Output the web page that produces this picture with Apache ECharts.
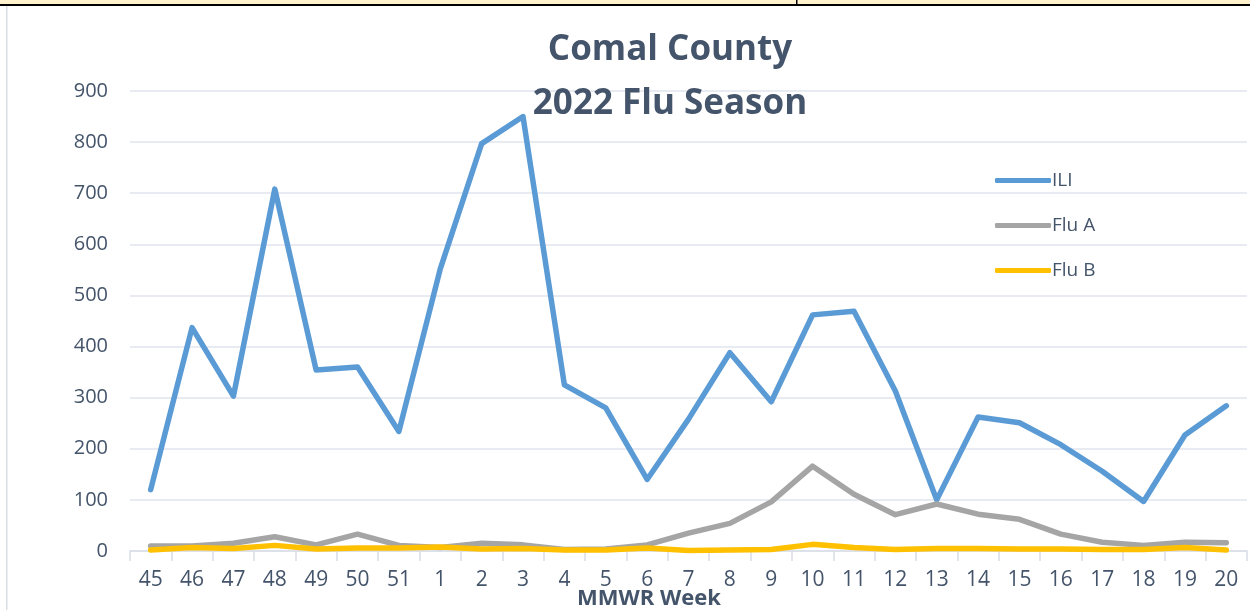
<!DOCTYPE html>
<html>
<head>
<meta charset="utf-8">
<script src="https://cdn.jsdelivr.net/npm/echarts@6/dist/echarts.min.js"></script>
<style>
html, body { margin: 0; padding: 0; background: #fff; }
#chart { width: 1250px; height: 610px; }
</style>
</head>
<body>
<div id="chart"></div>
<script>
// MMWR weeks, 2022 season
const weeks = ['45', '46', '47', '48', '49', '50', '51', '1', '2', '3', '4', '5', '6',
  '7', '8', '9', '10', '11', '12', '13', '14', '15', '16', '17', '18', '19', '20']
const ili = [120, 437, 303, 708, 354, 360, 234, 552, 797, 850, 325, 280, 140,
  258, 388, 292, 462, 469, 313, 100, 262, 251, 208, 156, 97, 227, 284]
const fluA = [10, 10, 15, 28, 12, 33, 11, 7, 15, 12, 3, 4, 12,
  35, 54, 96, 166, 111, 71, 92, 72, 62, 33, 17, 11, 17, 16]
const fluB = [2, 7, 5, 11, 4, 6, 6, 8, 4, 5, 2, 2, 6,
  1, 2, 3, 13, 7, 3, 5, 5, 4, 4, 3, 3, 7, 2]

const textColor = '#44546A'
const font = '"Open Sans", "Noto Sans", sans-serif'

let ch = echarts.init(document.getElementById('chart'))

function lineSeries(name, data, color) {
  return {
    name: name,
    type: 'line',
    data: data,
    symbol: 'none',
    lineStyle: { width: 5.5, color: color, cap: 'round', join: 'round' },
    itemStyle: { color: color },
    animation: false
  }
}

let option = {
  backgroundColor: '#fff',
  textStyle: { fontFamily: font },
  title: {
    text: 'Comal County\n2022 Flu Season',
    left: 665,
    textAlign: 'center',
    top: 18,
    textStyle: {
      color: textColor,
      fontSize: 35,
      fontWeight: 'bold',
      lineHeight: 54,
      fontFamily: font
    }
  },
  legend: {
    orient: 'vertical',
    left: 990,
    top: 166,
    itemGap: 26,
    itemWidth: 56,
    itemHeight: 5,
    icon: 'roundRect',
    textStyle: { color: textColor, fontSize: 19, padding: [0, 0, 0, -4] },
    data: ['ILI', 'Flu A', 'Flu B']
  },
  grid: {
    left: 130,
    right: 3,
    top: 91,
    bottom: 59,
    outerBoundsMode: 'none'
  },
  xAxis: {
    type: 'category',
    data: weeks,
    boundaryGap: true,
    axisLine: { lineStyle: { color: '#D9DEE6', width: 1.5 } },
    axisTick: { show: true, length: 10, lineStyle: { color: '#D9DEE6', width: 1.5 } },
    axisLabel: { color: textColor, fontSize: 21, margin: 19 },
    splitLine: { show: false }
  },
  yAxis: {
    type: 'value',
    min: 0,
    max: 900,
    interval: 100,
    axisLine: { show: false },
    axisTick: { show: false },
    axisLabel: { color: textColor, fontSize: 20, margin: 22 },
    splitLine: { lineStyle: { color: '#E1E5EC', width: 1.5 } }
  },
  graphic: [
    { type: 'rect', shape: { x: 0, y: 0, width: 1250, height: 5 }, style: { fill: '#FFF2CC' }, silent: true },
    { type: 'rect', shape: { x: 0, y: 4, width: 1250, height: 2 }, style: { fill: '#000' }, silent: true },
    { type: 'rect', shape: { x: 796, y: 0, width: 1.5, height: 5 }, style: { fill: '#000' }, silent: true },
    { type: 'rect', shape: { x: 6, y: 6, width: 1.5, height: 604 }, style: { fill: '#D9DEE6' }, silent: true },
    {
      type: 'text',
      left: 647 - 70,
      top: 588,
      style: {
        text: 'MMWR Week',
        fill: textColor,
        font: 'bold 22px ' + font
      },
      silent: true
    }
  ],
  series: [
    lineSeries('ILI', ili, '#5B9BD5'),
    lineSeries('Flu A', fluA, '#A5A5A5'),
    lineSeries('Flu B', fluB, '#FFC000')
  ]
}
ch.setOption(option)
</script>
</body>
</html>
